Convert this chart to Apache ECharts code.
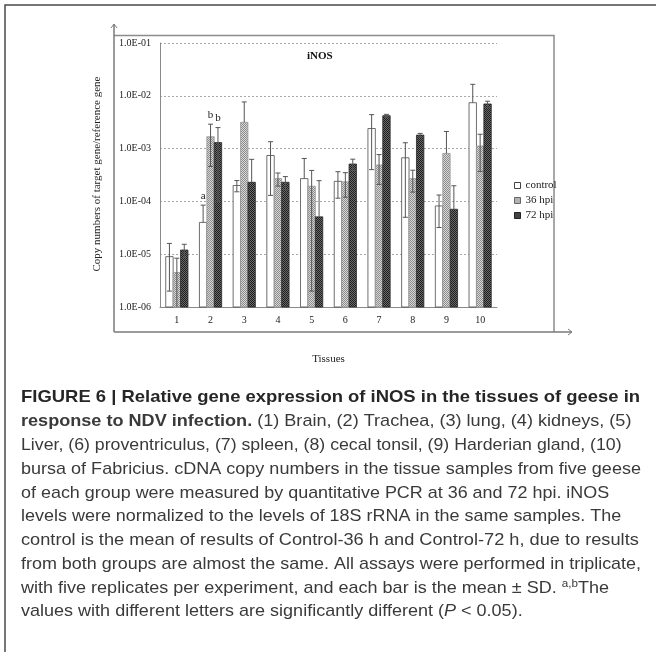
<!DOCTYPE html>
<html>
<head>
<meta charset="utf-8">
<script src="https://cdn.jsdelivr.net/npm/echarts@6/dist/echarts.min.js"></script>
<style>
  html, body { margin: 0; padding: 0; background: #fff; }
  #chart { width: 656px; height: 652px; }
</style>
</head>
<body>
<div id="chart"></div>
<script>
// Tissue numbers along the x axis
const categories = ['1', '2', '3', '4', '5', '6', '7', '8', '9', '10'];

// Mean copy numbers (target gene / reference gene) and SD per group
const controlMean = [9.0e-6, 4.0e-5, 2.0e-4, 7.4e-4, 2.7e-4, 2.4e-4, 2.4e-3, 6.7e-4, 8.2e-5, 7.4e-3];
const controlSD   = [7.0e-6, 4.5e-5, 4.8e-5, 6.1e-4, 3.8e-4, 1.25e-4, 2.0e-3, 6.2e-4, 5.0e-5, 9.1e-3];
const hpi36Mean   = [4.5e-6, 1.68e-3, 3.15e-3, 2.7e-4, 1.94e-4, 2.35e-4, 4.9e-4, 2.7e-4, 8.1e-4, 1.12e-3];
const hpi36SD     = [3.9e-6, 1.22e-3, 4.5e-3, 7.5e-5, 1.92e-4, 1.15e-4, 2.8e-4, 1.2e-4, 1.3e-3, 7.5e-4];
const hpi72Mean   = [1.2e-5, 1.3e-3, 2.3e-4, 2.3e-4, 5.1e-5, 5.1e-4, 4.2e-3, 1.8e-3, 7.1e-5, 7.0e-3];
const hpi72SD     = [3.4e-6, 1.2e-3, 3.96e-4, 6.5e-5, 1.96e-4, 1.2e-4, 2.5e-4, 1.4e-4, 1.27e-4, 9.0e-4];

// Significance letters above the error bars
const controlSig = ['', 'a', '', '', '', '', '', '', '', ''];
const hpi36Sig   = ['', 'b', '', '', '', '', '', '', '', ''];
const hpi72Sig   = ['', 'b', '', '', '', '', '', '', '', ''];

// Log axis range and its tick labels
const yMin = 1e-6;
const yMax = 1e-1;
const yTickLabels = ['1.0E-06', '1.0E-05', '1.0E-04', '1.0E-03', '1.0E-02', '1.0E-01'];

const seriesNames = ['control', '36 hpi', '72 hpi'];

const captionLines = [
  'FIGURE 6 | Relative gene expression of iNOS in the tissues of geese in',
  '{b|response to NDV infection.}{r| (1) Brain, (2) Trachea, (3) lung, (4) kidneys, (5)}',
  'Liver, (6) proventriculus, (7) spleen, (8) cecal tonsil, (9) Harderian gland, (10)',
  'bursa of Fabricius. cDNA copy numbers in the tissue samples from five geese',
  'of each group were measured by quantitative PCR at 36 and 72 hpi. iNOS',
  'levels were normalized to the levels of 18S rRNA in the same samples. The',
  'control is the mean of results of Control-36 h and Control-72 h, due to results',
  'from both groups are almost the same. All assays were performed in triplicate,',
  '{r|with five replicates per experiment, and each bar is the mean \u00b1 SD. }{sup|a,b}{r|The}',
  '{r|values with different letters are significantly different (}{i|P}{r| < 0.05).}'
];

// Fine checker fills for the hatched bars
function checker(c1, c2) {
  const cv = document.createElement('canvas');
  cv.width = 2; cv.height = 2;
  const ctx = cv.getContext('2d');
  ctx.fillStyle = c1; ctx.fillRect(0, 0, 2, 2);
  ctx.fillStyle = c2; ctx.fillRect(0, 0, 1, 1); ctx.fillRect(1, 1, 1, 1);
  return { image: cv, repeat: 'repeat' };
}
const fill36 = checker('#d8d8d8', '#8c8c8c');
const fill72 = checker('#6a6a6a', '#1e1e1e');

const barStyles = [
  { fill: '#ffffff', stroke: '#4a4a4a' },
  { fill: fill36, stroke: '#9a9a9a' },
  { fill: fill72, stroke: '#2a2a2a' }
];

const serif = '"Liberation Serif", "Times New Roman", serif';
const sans = '"Liberation Sans", Arial, Helvetica, sans-serif';

function makeBarSeries(k, means, sds, sigs) {
  return {
    type: 'custom',
    name: seriesNames[k],
    coordinateSystem: 'cartesian2d',
    encode: { x: 0, y: 1 },
    data: means.map((m, i) => [i, m, sds[i]]),
    itemStyle: { color: k === 0 ? '#ffffff' : (k === 1 ? '#b0b0b0' : '#444444') },
    renderItem: function (params, api) {
      const idx = api.value(0);
      const mean = api.value(1);
      const sd = api.value(2);
      const band = api.size([1, 0])[0];
      const bw = band * 0.22;
      const top = api.coord([idx, mean]);
      const cx = top[0] + (k - 1) * bw;
      const yBase = api.coord([idx, yMin])[1];
      const yTop = top[1];
      const st = barStyles[k];
      const children = [{
        type: 'rect',
        shape: { x: cx - bw / 2, y: yTop, width: bw, height: yBase - yTop },
        style: { fill: st.fill, stroke: st.stroke, lineWidth: 0.8 }
      }];
      const yHigh = api.coord([idx, mean + sd])[1];
      const low = mean - sd;
      let yLow = yTop;
      let lowCap = false;
      if (low > 0) {
        yLow = api.coord([idx, Math.max(low, yMin)])[1];
        lowCap = low >= yMin;
      }
      const ec = '#555555';
      const cap = 2.5;
      children.push({ type: 'line', shape: { x1: cx, y1: yLow, x2: cx, y2: yHigh }, style: { stroke: ec, lineWidth: 1 } });
      children.push({ type: 'line', shape: { x1: cx - cap, y1: yHigh, x2: cx + cap, y2: yHigh }, style: { stroke: ec, lineWidth: 1 } });
      if (lowCap) {
        children.push({ type: 'line', shape: { x1: cx - cap, y1: yLow, x2: cx + cap, y2: yLow }, style: { stroke: ec, lineWidth: 1 } });
      }
      const sig = sigs[params.dataIndex];
      if (sig) {
        children.push({
          type: 'text',
          style: { text: sig, x: cx, y: yHigh - 9, align: 'center', verticalAlign: 'middle', font: '11px ' + serif, fill: '#222' }
        });
      }
      return { type: 'group', children: children };
    }
  };
}

// Caption lines: rows are set one by one, slightly widened to the column width
const captionY = [397, 421, 445, 469, 493, 516, 540, 564, 588, 611];
const captionStretch = [1.085, 1.064, 1.042, 1.06, 1.055, 1.057, 1.07, 1.055, 1.06, 1.06];
const captionGraphics = captionLines.map((line, i) => {
  const size = 17;
  return {
    type: 'text',
    x: 21,
    y: captionY[i],
    scaleX: captionStretch[i],
    style: {
      text: line,
      font: (i === 0 ? 'bold ' : '') + size + 'px ' + sans,
      fill: i === 0 ? '#262626' : '#3a3a3a',
      verticalAlign: 'middle',
      rich: {
        b: { fontWeight: 'bold', fontSize: size, fontFamily: sans, color: '#262626', lineHeight: 20 },
        r: { fontSize: size, fontFamily: sans, color: '#3a3a3a', lineHeight: 20 },
        i: { fontStyle: 'italic', fontSize: size, fontFamily: sans, color: '#3a3a3a', lineHeight: 20 },
        sup: { fontSize: 11, fontFamily: sans, color: '#3a3a3a', lineHeight: 20, verticalAlign: 'top' }
      }
    }
  };
});

const axisGray = '#8a8a8a';

const chart = echarts.init(document.getElementById('chart'), null, { renderer: 'canvas' });
chart.setOption({
  backgroundColor: '#ffffff',
  animation: false,
  title: {
    text: 'iNOS',
    left: 307,
    top: 51,
    padding: 0,
    textStyle: { fontFamily: serif, fontSize: 11, fontWeight: 'bold', color: '#111' }
  },
  legend: {
    orient: 'vertical',
    left: 509,
    top: 174,
    itemWidth: 6,
    itemHeight: 6,
    itemGap: 2,
    icon: 'rect',
    textStyle: { fontFamily: serif, fontSize: 11, color: '#222', lineHeight: 13 },
    data: [
      { name: seriesNames[0], itemStyle: { color: '#ffffff', borderColor: '#444', borderWidth: 1 } },
      { name: seriesNames[1], itemStyle: { color: fill36, borderColor: '#666', borderWidth: 1 } },
      { name: seriesNames[2], itemStyle: { color: fill72, borderColor: '#222', borderWidth: 1 } }
    ]
  },
  grid: { left: 160, right: 159, top: 43, bottom: 345, containLabel: false },
  xAxis: {
    type: 'category',
    data: categories,
    name: 'Tissues',
    nameLocation: 'middle',
    nameGap: 47,
    nameTextStyle: { fontFamily: serif, fontSize: 11, color: '#222' },
    axisLine: { lineStyle: { color: axisGray, width: 1 } },
    axisTick: { show: false },
    axisLabel: { fontFamily: serif, fontSize: 10, color: '#222', margin: 8 }
  },
  yAxis: {
    type: 'log',
    logBase: 10,
    min: yMin,
    max: yMax,
    axisLine: { show: true, lineStyle: { color: axisGray, width: 1 } },
    axisTick: { show: false },
    splitLine: { show: true, lineStyle: { color: '#a8a8a8', type: [2, 2], width: 1 } },
    axisLabel: {
      fontFamily: serif,
      fontSize: 10,
      color: '#222',
      margin: 9,
      formatter: function (v) {
        const e = Math.round(Math.log10(v));
        return yTickLabels[e + 6];
      }
    }
  },
  graphic: [
    // figure frame
    { type: 'polyline', shape: { points: [[5, 652], [5, 5], [656, 5]] }, style: { stroke: '#4a4a4a', lineWidth: 1.5, fill: null } },
    // chart box
    { type: 'polyline', shape: { points: [[114, 35.5], [554, 35.5], [554, 332]] }, style: { stroke: '#8c8c8c', lineWidth: 1.5, fill: null } },
    // axis arrows
    { type: 'line', shape: { x1: 114, y1: 332, x2: 114, y2: 24 }, style: { stroke: '#7a7a7a', lineWidth: 1.5 } },
    { type: 'polyline', shape: { points: [[111, 28], [114, 24], [117, 28]] }, style: { stroke: '#7a7a7a', lineWidth: 1, fill: null } },
    { type: 'line', shape: { x1: 114, y1: 332, x2: 572, y2: 332 }, style: { stroke: '#7a7a7a', lineWidth: 1.5 } },
    { type: 'polyline', shape: { points: [[568, 329], [572, 332], [568, 335]] }, style: { stroke: '#7a7a7a', lineWidth: 1, fill: null } },
    // y axis title
    {
      type: 'text',
      x: 97,
      y: 174,
      rotation: Math.PI / 2,
      style: { text: 'Copy numbers of target gene/reference gene', font: '11px ' + serif, fill: '#222', align: 'center', verticalAlign: 'middle' }
    }
  ].concat(captionGraphics),
  series: [
    makeBarSeries(0, controlMean, controlSD, controlSig),
    makeBarSeries(1, hpi36Mean, hpi36SD, hpi36Sig),
    makeBarSeries(2, hpi72Mean, hpi72SD, hpi72Sig)
  ]
});
</script>
</body>
</html>
